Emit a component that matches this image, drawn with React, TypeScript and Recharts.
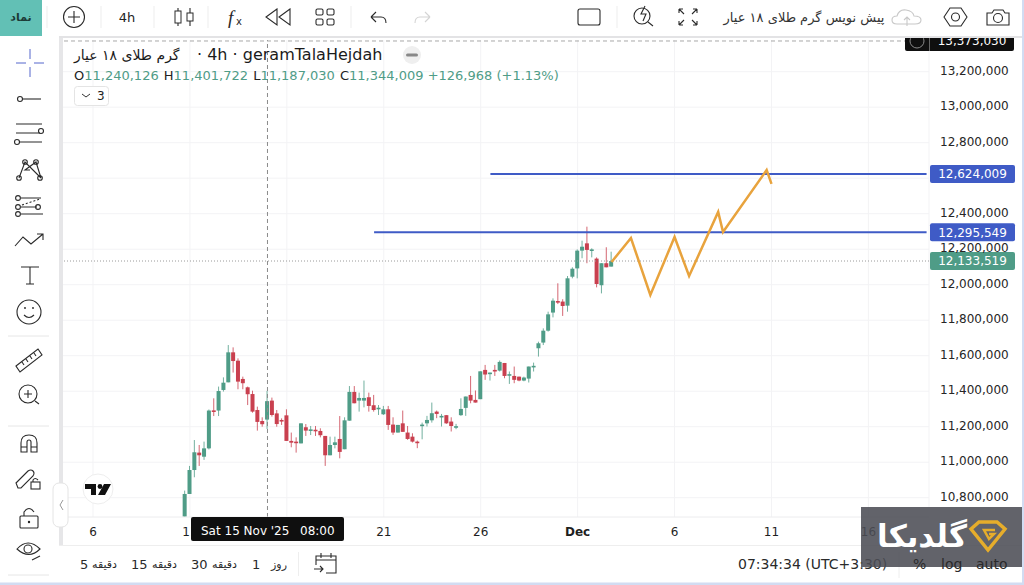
import React from "react";
import { ComposedChart, Bar, Line, XAxis, YAxis, CartesianGrid, ReferenceLine } from "recharts";

const candleOpen = [10693,10821,10956,11054,11031,11078,11292,11291,11407,11450,11619,11572,11469,11422,11384,11294,11232,11240.126,11347,11275,11238,11264,11120,11116,11106,11197,11182,11183,11176,11148,11039,11097,11131,11073,11234,11396,11347,11347,11366,11321,11298,11270,11298,11212,11167,11219,11167,11144,11116,11208,11219,11236,11285,11257,11265,11229,11197,11265,11306,11379,11351,11355,11520,11501,11520,11516,11559,11492,11486,11482,11460,11471,11535,11642,11674,11741,11843,11908,11905,11882,12045,12092,12192,12233,12196,12147,11997,12121,12102];
const candleHigh = [10840,10979,11125,11097,11116,11297,11360,11426,11478,11660,11647,11585,11482,11426,11403,11313,11253,11401.722,11364,11294,11247,11298,11167,11140,11219,11215,11204,11204,11191,11148,11144,11144,11260,11253,11429,11429,11392,11460,11392,11379,11322,11317,11317,11253,11210,11291,11204,11163,11122,11223,11261,11336,11291,11272,11266,11253,11216,11360,11370,11486,11404,11512,11548,11505,11548,11573,11559,11511,11539,11482,11482,11539,11561,11679,11754,11848,11923,12008,11918,12049,12098,12199,12248,12327,12205,12154,12121,12211,12186];
const candleLow = [10690,10821,10915,10979,11013,11072,11260,11260,11398,11450,11505,11411,11411,11322,11279,11178,11200,11187.03,11257,11200,11210,11120,11084,11054,11106,11148,11153,11148,11140,10979,11039,11078,11022,11073,11234,11332,11285,11309,11285,11285,11266,11266,11182,11154,11167,11171,11126,11111,11079,11129,11201,11223,11248,11201,11216,11173,11186,11261,11261,11332,11336,11355,11464,11460,11486,11511,11473,11441,11445,11456,11456,11449,11511,11595,11660,11736,11816,11891,11824,11848,12036,12036,12149,12121,12154,11985,11951,12098,12102];
const candleClose = [10821,10956,11056,11039,11078,11291,11289,11401,11448,11619,11570,11454,11445,11383,11285,11227,11214,11344.009,11266,11215,11230,11120,11110,11112,11219,11178,11185,11180,11152,11039,11097,11112,11058,11236,11396,11332,11362,11362,11317,11294,11307,11298,11210,11167,11210,11171,11131,11116,11112,11212,11238,11276,11272,11261,11219,11204,11203,11300,11370,11347,11336,11512,11494,11505,11511,11565,11486,11496,11464,11460,11477,11539,11543,11670,11741,11833,11910,11899,11880,12036,12090,12192,12214,12196,12199,12004,12121,12098,12133.519];

const firstCandleSlot = 25;
const slotCount = 179;
const forecastSlots = [113,117,121,126,129,135,136,145,146];
const forecastValues = [12128,12263,11942,12269,12049,12410,12297,12646,12568];

const upperLevel = 12624009;
const lowerLevel = 12295549;
const lastPrice = 12133519;
const crosshairPrice = 13373030;
const upperLevelStart = 88;
const lowerLevelStart = 64;
const crosshairSlot = 42;

const xTickSlots = [6,26,46,66,86,106,126,146,166];
const xTickLabels = ["6","11","","21","26","Dec","6","11","16"];
const yTicks = [10800000,11000000,11200000,11400000,11600000,11800000,12000000,12200000,12400000,12800000,13000000,13200000];
const gridY = [...yTicks, 12600000];
const intervalLabels = [
  { n: "5", nx: 80, w: "دقیقه", wx: 117 },
  { n: "15", nx: 131, w: "دقیقه", wx: 177 },
  { n: "30", nx: 191, w: "دقیقه", wx: 237 },
  { n: "1", nx: 252, w: "روز", wx: 287 },
];

const chartData = Array.from({ length: slotCount }, (_, slot) => {
  const k = slot - firstCandleSlot;
  const row: any = { slot };
  if (k >= 0 && k < candleOpen.length) {
    row.range = [candleLow[k] * 1000, candleHigh[k] * 1000];
    row.open = candleOpen[k] * 1000;
    row.close = candleClose[k] * 1000;
  }
  const f = forecastSlots.indexOf(slot);
  if (f >= 0) row.forecast = forecastValues[f] * 1000;
  if (slot === upperLevelStart || slot === slotCount - 1) row.upper = upperLevel;
  if (slot === lowerLevelStart || slot === slotCount - 1) row.lower = lowerLevel;
  return row;
});

const GREEN = "#4f9c87";
const RED = "#c9404f";
const BLUE = "#3f5bc6";
const FONT = "'DejaVu Sans', sans-serif";
const fmt = (v: number) => v.toLocaleString("en-US");

const Candle = (p: any) => {
  const { x, y, width, height, payload } = p;
  if (!payload || !payload.range || height == null) return null;
  const [lo, hi] = payload.range;
  const k = height / (hi - lo);
  const up = payload.close >= payload.open;
  const color = up ? GREEN : RED;
  const top = y + (hi - Math.max(payload.open, payload.close)) * k;
  const bot = y + (hi - Math.min(payload.open, payload.close)) * k;
  const cx = x + width / 2;
  return (
    <g>
      <line x1={cx} x2={cx} y1={y} y2={y + height} stroke={color} strokeOpacity={0.8} strokeWidth={1} />
      <rect x={cx - 2} width={4} y={top} height={Math.max(bot - top, 1.6)} fill={color} />
    </g>
  );
};

const PriceTag = ({ viewBox, value, color, h = 18 }: any) => {
  if (!viewBox) return null;
  const right = viewBox.x + viewBox.width;
  return (
    <g>
      <rect x={right + 1} y={viewBox.y - h / 2} width={85} height={h} rx={2} fill={color} />
      <text x={right + 43.5} y={viewBox.y + 4.3} textAnchor="middle" fill="#fff" fontSize={12} fontFamily={FONT}>{value}</text>
    </g>
  );
};

const XTick = ({ x, y, payload }: any) => {
  const i = xTickSlots.indexOf(payload.value);
  const label = xTickLabels[i];
  if (!label) return null;
  return (
    <text x={x} y={y + 11} textAnchor="middle" fontSize={12} fontFamily={FONT} fill="#1e1e1e" fontWeight={label === "Dec" ? 700 : 400}>{label}</text>
  );
};

const YTick = ({ y, payload }: any) => (
  <text x={940} y={y + 2.8} fontSize={12} fontFamily={FONT} fill="#262626">{fmt(payload.value)}</text>
);

const S = { fill: "none", stroke: "#2a2a2a", strokeWidth: 1.1 };

const Chrome = () => (
  <svg width={1024} height={585} style={{ position: "absolute", left: 0, top: 0, pointerEvents: "none" }}>
    {/* price crosshair tag, clipped by the top bar */}
    <rect x={905} y={33} width={109} height={18} rx={2} fill="#0f0f0f" />
    <line x1={929.5} x2={929.5} y1={33} y2={51} stroke="#666" />
    <circle cx={917} cy={41} r={7} fill="none" stroke="#888" />
    <text x={972} y={45} textAnchor="middle" fontSize={12} fontFamily={FONT} fill="#fff">{fmt(crosshairPrice)}</text>

    {/* top bar */}
    <rect x={0} y={0} width={1024} height={36} fill="#fff" />
    <rect x={0} y={36} width={1024} height={2} fill="#e3e3e5" />
    <rect x={0} y={0} width={42} height={36} fill="#62c0b5" />
    <text x={21} y={21} textAnchor="middle" fontSize={11} fontWeight={700} fontFamily={FONT} fill="#1c3a36">نماد</text>
    {[47,101,154,208,351,617].map((x) => <line key={x} x1={x} x2={x} y1={6} y2={28} stroke="#ededed" />)}
    <circle cx={74} cy={17} r={10.5} {...S} />
    <path d="M68 17h12M74 11v12" {...S} />
    <text x={127} y={22} textAnchor="middle" fontSize={13} fontFamily={FONT} fill="#222">4h</text>
    <path d="M178 8v18M190 8v18" {...S} />
    <rect x={175} y={11} width={6} height={12} fill="#fff" stroke="#2a2a2a" />
    <rect x={187} y={13} width={6} height={8} fill="#fff" stroke="#2a2a2a" />
    <text x={228} y={24} fontSize={19} fontStyle="italic" fontFamily="'Liberation Serif', serif" fill="#2a2a2a">f</text>
    <text x={236} y={25} fontSize={10} fontFamily={FONT} fill="#2a2a2a">x</text>
    <path d="M277 9l-11 8 11 8zM290 9l-11 8 11 8z" {...S} />
    <rect x={316} y={9} width={7} height={6} rx={1.5} {...S} /><rect x={327} y={9} width={7} height={6} rx={1.5} {...S} />
    <rect x={316} y={19} width={7} height={6} rx={1.5} {...S} /><rect x={327} y={19} width={7} height={6} rx={1.5} {...S} />
    <path d="M371 17h10q5 0 5 6M371 17l5-5M371 17l5 5" {...S} />
    <path d="M430 17h-10q-5 0-5 6M430 17l-5-5M430 17l-5 5" {...S} stroke="#d4d4d4" />
    <rect x={578} y={9} width={22} height={16} rx={2} {...S} />
    <circle cx={642} cy={16} r={8} {...S} /><path d="M648 22l5 4M645 6l-4 8h5l-3 7" {...S} />
    <path d="M679 9l5 5M697 9l-5 5M679 25l5-5M697 25l-5-5M679 9v4M679 9h4M697 9v4M697 9h-4M679 25v-4M679 25h4M697 25v-4M697 25h-4" {...S} />
    <text x={804} y={22} textAnchor="middle" fontSize={13} fontFamily={FONT} fill="#333" direction="rtl">پیش نویس گرم طلای ۱۸ عیار</text>
    <path d="M897 24q-5 0-5-4t5-4q2-7 9-6t8 6q7 0 7 4t-6 4zM907 26v-9M904 20l3-3 3 3" {...S} stroke="#c8c8c8" />
    <path d="M944 17l6-9h11l6 9-6 9h-11z" {...S} /><circle cx={955.5} cy={17} r={4} {...S} />
    <path d="M987 13h5l2-3h9l2 3h4v12h-22z" {...S} /><circle cx={998} cy={18} r={4.5} {...S} />

    {/* left toolbar */}
    <rect x={0} y={36} width={59} height={549} fill="#fff" />
    <rect x={59} y={38} width={4} height={510} fill="#e6e6e8" />
    <path d="M16 63h10M34 63h10M30 49v10M30 67v10" fill="none" stroke="#5566cc" strokeWidth={1} />
    <circle cx={20} cy={99} r={2.5} {...S} /><path d="M23 99h18" {...S} />
    <path d="M16 124h26M16 133h24M19 142h23" {...S} /><circle cx={41} cy={131} r={2.5} {...S} /><circle cx={17} cy={142} r={2.5} {...S} />
    <path d="M19 178l6-16 16 16-5-16-11 8 5 0" {...S} />
    <circle cx={19} cy={178} r={2.3} {...S} /><circle cx={25} cy={162} r={2.3} {...S} /><circle cx={40} cy={178} r={2.3} {...S} /><circle cx={36} cy={162} r={2.3} {...S} />
    <path d="M21 198h20M21 207h16M21 214h22" {...S} /><path d="M22 205l18-6" {...S} strokeDasharray="2 2" />
    <circle cx={18} cy={198} r={2.4} {...S} /><circle cx={18} cy={207} r={2.4} {...S} /><circle cx={18} cy={214} r={2.4} {...S} /><circle cx={38} cy={207} r={2.4} {...S} />
    <path d="M15 246l8-9 8 7 12-10M37 234h6v6" {...S} />
    <path d="M21 267h18M30 267v17M26 284h8" {...S} />
    <circle cx={29} cy={312} r={12} {...S} /><path d="M24 315q5 5 10 0" {...S} /><circle cx={25} cy={308} r={0.9} fill="#222" /><circle cx={33} cy={308} r={0.9} fill="#222" />
    <line x1={8} x2={49} y1={336} y2={336} stroke="#e6e6e6" />
    <path d="M16 366l22-17 4 6-22 17zM22 362l2 3M26 359l2 3M30 356l2 3M34 353l2 3" {...S} />
    <circle cx={28} cy={394} r={9} {...S} /><path d="M24 394h8M28 390v8M35 401l4 3" {...S} />
    <line x1={8} x2={49} y1={426} y2={426} stroke="#e6e6e6" />
    <path d="M21 452v-9q0-8 8-8t8 8v9h-6v-10q0-2-2-2t-2 2v10zM21 447h6M31 447h6" {...S} />
    <path d="M18 488l-2-5 12-12q3-2 5 0t0 5l-12 12z" {...S} /><rect x={31} y={482} width={9} height={7} {...S} /><path d="M33 482v-2q2-3 5 0" {...S} />
    <rect x={20} y={516} width={18} height={12} rx={1} {...S} /><path d="M24 516v-4q5-7 10 0" {...S} /><circle cx={29} cy={522} r={1.2} fill="#222" />
    <path d="M17 549q11-12 23 0q-11 11-23 0z" {...S} /><circle cx={28} cy={549} r={4} {...S} /><path d="M32 560l8-4" {...S} />
    <line x1={8} x2={49} y1={575} y2={575} stroke="#e6e6e6" />
    <rect x={53} y={483} width={15} height={44} rx={6} fill="#fff" stroke="#e4e4e4" />
    <path d="M63 500l-3 5 3 5" fill="none" stroke="#999" />

    {/* legend */}
    <text x={74} y={60} fontSize={14} fontFamily={FONT} fill="#1b1b1b" direction="rtl" textAnchor="end">گرم طلای ۱۸ عیار</text>
    <text x={197} y={60} fontSize={16} fontFamily={FONT} fill="#1b1b1b">· 4h · geramTalaHejdah</text>
    <circle cx={412} cy={55} r={9} fill="#efefef" /><rect x={406} y={53.5} width={12} height={3} rx={1.5} fill="#888" />
    <text x={74} y={80} fontSize={13} fontFamily={FONT} fill={GREEN}>
      <tspan fill="#222">O</tspan>11,240,126 <tspan fill="#222" dx={1}>H</tspan>11,401,722 <tspan fill="#222" dx={1}>L</tspan>11,187,030 <tspan fill="#222" dx={1}>C</tspan>11,344,009 +126,968 (+1.13%)
    </text>
    <rect x={74.5} y={86.5} width={34} height={19} rx={3} fill="#fff" stroke="#e4e4e4" />
    <path d="M82 94l4 3 4-3" fill="none" stroke="#333" />
    <text x={97} y={100} fontSize={12} fontFamily={FONT} fill="#222">3</text>

    {/* TV logo */}
    <circle cx={98} cy={489} r={15} fill="#fff" stroke="#eee" />
    <path d="M85 484h11v11h-5v-6h-6zM104 484h7l-6 11h-7z" fill="#111" />
    <circle cx={100} cy={486.5} r={2.4} fill="#111" />

    {/* time crosshair tag */}
    <rect x={191} y={517} width={153} height={24} rx={2} fill="#0f0f0f" />
    <text x={201} y={535} fontSize={12} fontWeight={500} fontFamily={FONT} fill="#fff">Sat 15 Nov '25</text>
    <text x={300} y={535} fontSize={12} fontFamily={FONT} fill="#fff">08:00</text>

    {/* bottom bar */}
    <rect x={59} y={545} width={965} height={40} fill="#fff" />
    <line x1={59} x2={1024} y1={545.5} y2={545.5} stroke="#eeeeee" />
    {intervalLabels.map((d) => (
      <g key={d.nx} fontFamily={FONT} fill="#2a2a2a">
        <text x={d.nx} y={569} fontSize={13}>{d.n}</text>
        <text x={d.wx} y={568} fontSize={11} textAnchor="end" direction="rtl" style={{ textAnchor: "start" }}>{d.w}</text>
      </g>
    ))}
    <line x1={298.5} x2={298.5} y1={552} y2={576} stroke="#eee" />
    <line x1={899} x2={899} y1={552} y2={578} stroke="#eee" />
    <path d="M316 565v-9h20v17h-10M316 560h20M321 553v5M331 553v5M314 569h9M320 566l3 3-3 3" {...S} />
    <text x={738} y={569} fontSize={14} fontFamily={FONT} fill="#2a2a2a">07:34:34 (UTC+3:30)</text>

    {/* watermark */}
    <rect x={861} y={507} width={163} height={60} fill="#4c4d55" fillOpacity={0.88} />
    <text x={922} y={547} textAnchor="middle" fontSize={31} fontWeight={700} fontFamily={FONT} fill="#fff">گلدیکا</text>
    <path d="M971 529l8-7h18l8 7-17 21z" fill="none" stroke="#e6ad2b" strokeWidth={3.5} />
    <path d="M995 530h-11l5 9 5-5h-5" fill="none" stroke="#e6ad2b" strokeWidth={2.5} />
    <g fontSize={14} fontFamily={FONT} fill="#2a2a2a">
      <text x={913} y={569}>%</text>
      <text x={941} y={569}>log</text>
      <text x={976} y={569}>auto</text>
    </g>

    {/* frame */}
    <rect x={1022} y={0} width={2} height={585} fill="#d2dcf2" />
    <rect x={0} y={582.5} width={1024} height={2.5} fill="#d2dcf2" />
  </svg>
);

export default function App() {
  return (
    <div style={{ position: "absolute", left: 0, top: 0, width: 1024, height: 585, background: "#fff", overflow: "hidden" }}>
      <ComposedChart width={1024} height={585} data={chartData} margin={{ top: 40, right: 0, bottom: 40, left: 61.5 }} barCategoryGap={0}>
        <CartesianGrid stroke="#f3f3f5" horizontalValues={gridY} />
        <XAxis dataKey="slot" type="category" ticks={xTickSlots} interval={0} height={28} tick={<XTick />} tickLine={false} axisLine={{ stroke: "#ececee" }} />
        <YAxis orientation="right" width={95} type="number" domain={[10691300, 13378600]} allowDataOverflow ticks={yTicks} interval={0} tick={<YTick />} tickLine={false} axisLine={false} />
        <ReferenceLine x={crosshairSlot} stroke="#8a8a8a" strokeDasharray="4 3" />
        <ReferenceLine y={crosshairPrice} stroke="#a8a8a8" strokeDasharray="4 3" />
        <ReferenceLine y={lastPrice} stroke="#9a9a9a" strokeDasharray="1 2" label={<PriceTag value={fmt(lastPrice)} color={GREEN} />} />
        <ReferenceLine y={upperLevel} stroke="none" label={<PriceTag value={fmt(upperLevel)} color={BLUE} />} />
        <ReferenceLine y={lowerLevel} stroke="none" label={<PriceTag value={fmt(lowerLevel)} color={BLUE} />} />
        <Bar dataKey="range" barSize={4} shape={<Candle />} isAnimationActive={false} />
        <Line dataKey="upper" stroke={BLUE} strokeWidth={2} dot={false} connectNulls isAnimationActive={false} />
        <Line dataKey="lower" stroke={BLUE} strokeWidth={2} dot={false} connectNulls isAnimationActive={false} />
        <Line dataKey="forecast" stroke="#e8a33d" strokeWidth={2.5} dot={false} connectNulls isAnimationActive={false} />
      </ComposedChart>
      <Chrome />
    </div>
  );
}
